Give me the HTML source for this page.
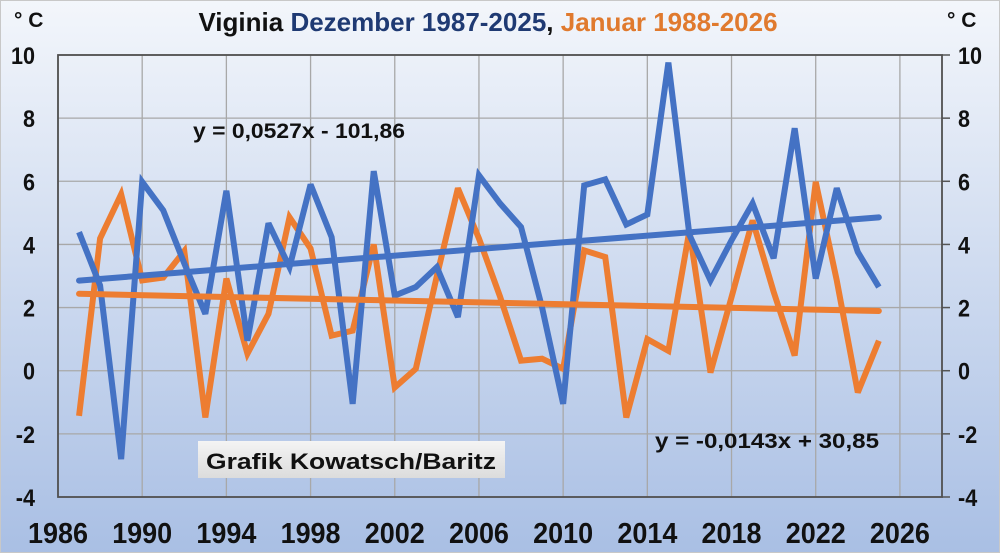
<!DOCTYPE html>
<html><head><meta charset="utf-8"><style>
html,body{margin:0;padding:0;}
body{width:1000px;height:553px;overflow:hidden;font-family:"Liberation Sans",sans-serif;}
</style></head><body>
<svg width="1000" height="553" viewBox="0 0 1000 553" xmlns="http://www.w3.org/2000/svg">
<defs>
<linearGradient id="bg" x1="0" y1="0" x2="0" y2="1">
<stop offset="0" stop-color="#f3f6fb"/><stop offset="1" stop-color="#a9bfe4"/>
</linearGradient>
<linearGradient id="box" x1="0" y1="0" x2="0" y2="1">
<stop offset="0" stop-color="#f4f4f4"/><stop offset="1" stop-color="#dcdcdc"/>
</linearGradient>
</defs>
<rect x="0" y="0" width="1000" height="553" fill="url(#bg)"/>
<rect x="0.5" y="0.5" width="999" height="552" fill="none" stroke="#c8c8c8"/>
<g id="grid"></g>
<g id="axes"></g>
<g id="series"></g>
<text x="488" y="31" text-anchor="middle" font-size="26" font-weight="bold"><tspan fill="#111">Viginia </tspan><tspan fill="#1f3a73">Dezember 1987-2025</tspan><tspan fill="#111">, </tspan><tspan fill="#e07a2e">Januar 1988-2026</tspan></text>
<text x="14" y="27" font-size="21" font-weight="bold" fill="#111">° C</text>
<text x="947" y="27" font-size="21" font-weight="bold" fill="#111">° C</text>
<text x="193" y="138" font-size="21" font-weight="bold" fill="#111" textLength="212" lengthAdjust="spacingAndGlyphs">y = 0,0527x - 101,86</text>
<text x="655" y="448" font-size="21" font-weight="bold" fill="#111" textLength="224" lengthAdjust="spacingAndGlyphs">y = -0,0143x + 30,85</text>
<g>
<rect x="198" y="441" width="307" height="37" fill="url(#box)"/>
<text x="351" y="469" text-anchor="middle" font-size="22" font-weight="bold" fill="#111" textLength="290" lengthAdjust="spacingAndGlyphs">Grafik Kowatsch/Baritz</text>
</g>
</svg>
<script>
const years = [1987,1988,1989,1990,1991,1992,1993,1994,1995,1996,1997,1998,1999,2000,2001,2002,2003,2004,2005,2006,2007,2008,2009,2010,2011,2012,2013,2014,2015,2016,2017,2018,2019,2020,2021,2022,2023,2024,2025];
const dezember = [4.39,2.7,-2.8,5.98,5.08,3.4,1.8,5.7,0.95,4.67,3.28,5.9,4.23,-1.05,6.32,2.38,2.65,3.28,1.7,6.19,5.3,4.55,2.0,-1.05,5.87,6.06,4.63,4.95,9.76,4.3,2.86,4.13,5.3,3.56,7.68,2.92,5.78,3.76,2.65];
const januar = [-1.43,4.19,5.59,2.86,2.95,3.79,-1.48,2.92,0.54,1.8,4.86,3.87,1.11,1.27,4.0,-0.53,0.06,3.0,5.78,4.19,2.35,0.32,0.38,0.06,3.81,3.6,-1.48,1.0,0.63,4.44,-0.06,2.33,4.76,2.5,0.48,5.98,2.86,-0.69,0.95];
const blueTrend = [0.0527,-101.86];
const orangeTrend = [-0.0143,30.85];
const xTicks = [1986,1990,1994,1998,2002,2006,2010,2014,2018,2022,2026];
const yTicks = [-4,-2,0,2,4,6,8,10];

const NS="http://www.w3.org/2000/svg";
const X0=58,X1=942,XMIN=1986,XMAX=2028,Y0=497,Y1=55,YMIN=-4,YMAX=10;
function sx(v){return X0+(v-XMIN)/(XMAX-XMIN)*(X1-X0);}
function sy(v){return Y0-(v-YMIN)/(YMAX-YMIN)*(Y0-Y1);}
function mk(tag,attrs,parent){const e=document.createElementNS(NS,tag);for(const k in attrs)e.setAttribute(k,attrs[k]);parent.appendChild(e);return e;}
const grid=document.getElementById('grid'),axes=document.getElementById('axes'),series=document.getElementById('series');
yTicks.forEach(v=>{
  const l=mk('line',{x1:X0,x2:X1,y1:sy(v),y2:sy(v),stroke:'#a8a8a8','stroke-width':1.3},grid);
  
  
  const t1=mk('text',{x:35,y:sy(v)+9,'text-anchor':'end','font-size':24,'font-weight':'bold',fill:'#111',transform:'translate(35 0) scale(0.9 1) translate(-35 0)'},axes);
  t1.textContent=v;
  
  
  const t2=mk('text',{x:958,y:sy(v)+9,'text-anchor':'start','font-size':24,'font-weight':'bold',fill:'#111',transform:'translate(958 0) scale(0.9 1) translate(-958 0)'},axes);
  t2.textContent=v;
  
  
  const tk=mk('line',{x1:X1,x2:X1+8,y1:sy(v),y2:sy(v),stroke:'#555','stroke-width':1.5},axes);
  
  
});
xTicks.forEach(v=>{
  const l=mk('line',{x1:sx(v),x2:sx(v),y1:Y1,y2:Y0,stroke:'#a8a8a8','stroke-width':1.3},grid);
  
  
  const t=mk('text',{x:sx(v),y:543,'text-anchor':'middle','font-size':29,'font-weight':'bold',fill:'#111',textLength:60,lengthAdjust:'spacingAndGlyphs'},axes);
  t.textContent=v;
  
  
});
const border=mk('rect',{x:X0,y:Y1,width:X1-X0,height:Y0-Y1,fill:'none',stroke:'#505050','stroke-width':1.8},axes);


function pts(arr){return years.map((y,i)=>sx(y)+','+sy(arr[i])).join(' ');}
const pj=mk('polyline',{points:pts(januar),fill:'none',stroke:'#ed7d31','stroke-width':6,'stroke-linejoin':'miter','stroke-miterlimit':3},series);


const pd=mk('polyline',{points:pts(dezember),fill:'none',stroke:'#4472c4','stroke-width':6,'stroke-linejoin':'miter','stroke-miterlimit':3},series);


function trend(c,col,name){
  const a=years[0],b=years[years.length-1];
  const l=mk('line',{x1:sx(a),y1:sy(c[0]*a+c[1]),x2:sx(b),y2:sy(c[0]*b+c[1]),stroke:col,'stroke-width':6,'stroke-linecap':'round'},series);
  
  
}
trend(orangeTrend,'#ed7d31','januar-trendline');
trend(blueTrend,'#4472c4','dezember-trendline');
</script>
</body></html>
